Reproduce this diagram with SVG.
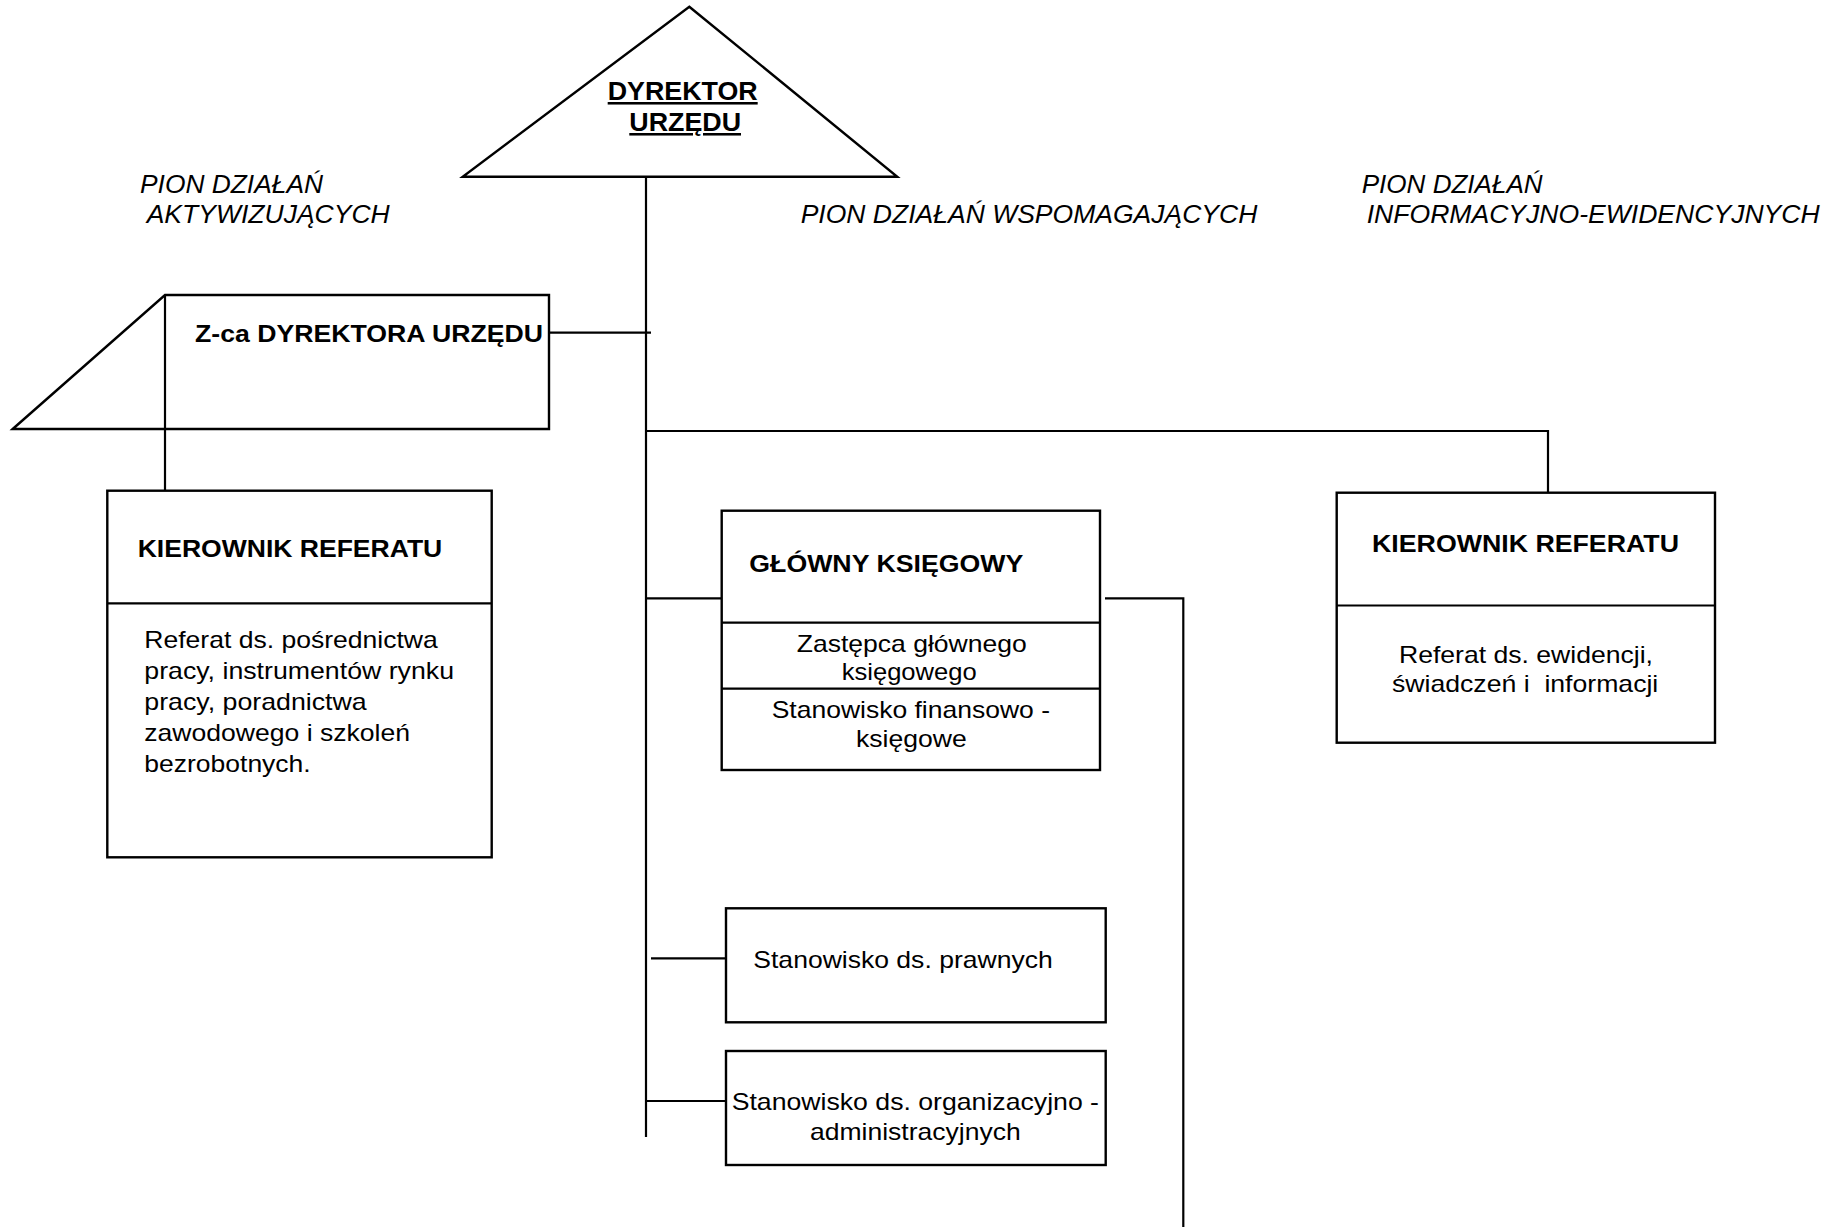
<svg xmlns="http://www.w3.org/2000/svg" width="1848" height="1231" viewBox="0 0 1848 1231">
<style>
text{font-family:"Liberation Sans",Arial,Helvetica,sans-serif;fill:#000}
.b{font-weight:bold;font-size:24.5px}
.r{font-size:24px}
.i{font-style:italic;font-size:25.5px}
.u{text-decoration:underline}
.shape{fill:#fff;stroke:#000;stroke-width:2.4}
.ln{fill:none;stroke:#000;stroke-width:2.2}
</style>
<rect width="1848" height="1231" fill="#fff"/>

<g id="labels">
<text class="i" x="140" y="193.3" textLength="183" lengthAdjust="spacingAndGlyphs">PION DZIAŁAŃ</text>
<text class="i" x="146.7" y="223.3" textLength="243" lengthAdjust="spacingAndGlyphs">AKTYWIZUJĄCYCH</text>
<text class="i" x="800.7" y="223.3" textLength="456.6" lengthAdjust="spacingAndGlyphs">PION DZIAŁAŃ WSPOMAGAJĄCYCH</text>
<text class="i" x="1361.7" y="193.3" textLength="181" lengthAdjust="spacingAndGlyphs">PION DZIAŁAŃ</text>
<text class="i" x="1366.7" y="223.3" textLength="453" lengthAdjust="spacingAndGlyphs">INFORMACYJNO-EWIDENCYJNYCH</text>
</g>

<g id="connectors">
<path class="ln" d="M646,177 V1137"/>
<path class="ln" d="M549,332.7 H651"/>
<path class="ln" d="M646,431 H1548 V492.7"/>
<path class="ln" d="M165,429 V490.7"/>
<path class="ln" d="M646,598.3 H721.7"/>
<path class="ln" d="M651,958.3 H726"/>
<path class="ln" d="M646,1101 H726"/>
<path class="ln" d="M1105,598.3 H1183.3 V1227"/>
</g>

<g id="dyrektor">
<polygon class="shape" points="689.3,6.7 897.3,176.7 462.7,176.7"/>
<text class="b u" x="607.7" y="100" style="font-size:25.5px" textLength="150" lengthAdjust="spacingAndGlyphs">DYREKTOR</text>
<text class="b u" x="629.3" y="131" style="font-size:25.5px" textLength="111.7" lengthAdjust="spacingAndGlyphs">URZĘDU</text>
</g>

<g id="zastepca-dyrektora">
<path class="shape" d="M12.7,429 L165,295 H549 V429 Z"/>
<path class="ln" d="M165,295 V429"/>
<text class="b" x="195" y="341.7" textLength="348" lengthAdjust="spacingAndGlyphs">Z-ca DYREKTORA URZĘDU</text>
</g>

<g id="kierownik-referatu-lewy">
<rect class="shape" x="107.3" y="490.7" width="384.4" height="366.6"/>
<path class="ln" d="M107.3,603.3 H491.7"/>
<text class="b" x="137.7" y="556.7" textLength="304.6" lengthAdjust="spacingAndGlyphs">KIEROWNIK REFERATU</text>
<text class="r" x="144.3" y="648.3" textLength="293.4" lengthAdjust="spacingAndGlyphs">Referat ds. pośrednictwa</text>
<text class="r" x="144.3" y="679" textLength="309.7" lengthAdjust="spacingAndGlyphs">pracy, instrumentów rynku</text>
<text class="r" x="144.3" y="710" textLength="222.4" lengthAdjust="spacingAndGlyphs">pracy, poradnictwa</text>
<text class="r" x="144.3" y="740.7" textLength="265.7" lengthAdjust="spacingAndGlyphs">zawodowego i szkoleń</text>
<text class="r" x="144.3" y="771.7" textLength="166.4" lengthAdjust="spacingAndGlyphs">bezrobotnych.</text>
</g>

<g id="glowny-ksiegowy">
<rect class="shape" x="721.7" y="510.7" width="378.3" height="259.3"/>
<path class="ln" d="M721.7,622.7 H1100 M721.7,688.7 H1100"/>
<text class="b" x="749.3" y="571.7" textLength="274" lengthAdjust="spacingAndGlyphs">GŁÓWNY KSIĘGOWY</text>
<text class="r" x="796.7" y="651.7" textLength="230" lengthAdjust="spacingAndGlyphs">Zastępca głównego</text>
<text class="r" x="841.7" y="680" textLength="135" lengthAdjust="spacingAndGlyphs">księgowego</text>
<text class="r" x="771.7" y="718.3" textLength="278.3" lengthAdjust="spacingAndGlyphs">Stanowisko finansowo -</text>
<text class="r" x="856" y="746.7" textLength="110.7" lengthAdjust="spacingAndGlyphs">księgowe</text>
</g>

<g id="kierownik-referatu-prawy">
<rect class="shape" x="1336.7" y="492.7" width="378.3" height="250"/>
<path class="ln" d="M1336.7,605.5 H1715"/>
<text class="b" x="1372" y="551.7" textLength="307" lengthAdjust="spacingAndGlyphs">KIEROWNIK REFERATU</text>
<text class="r" x="1399" y="662.7" textLength="254" lengthAdjust="spacingAndGlyphs">Referat ds. ewidencji,</text>
<text class="r" x="1392" y="692.3" textLength="266.3" lengthAdjust="spacingAndGlyphs" xml:space="preserve">świadczeń i  informacji</text>
</g>

<g id="stanowisko-prawne">
<rect class="shape" x="726" y="908.3" width="379.7" height="114"/>
<text class="r" x="753.3" y="968.3" textLength="299.4" lengthAdjust="spacingAndGlyphs">Stanowisko ds. prawnych</text>
</g>

<g id="stanowisko-organizacyjne">
<rect class="shape" x="726" y="1051" width="379.7" height="114"/>
<text class="r" x="731.7" y="1110" textLength="367.3" lengthAdjust="spacingAndGlyphs">Stanowisko ds. organizacyjno -</text>
<text class="r" x="810" y="1140" textLength="210.7" lengthAdjust="spacingAndGlyphs">administracyjnych</text>
</g>
</svg>
